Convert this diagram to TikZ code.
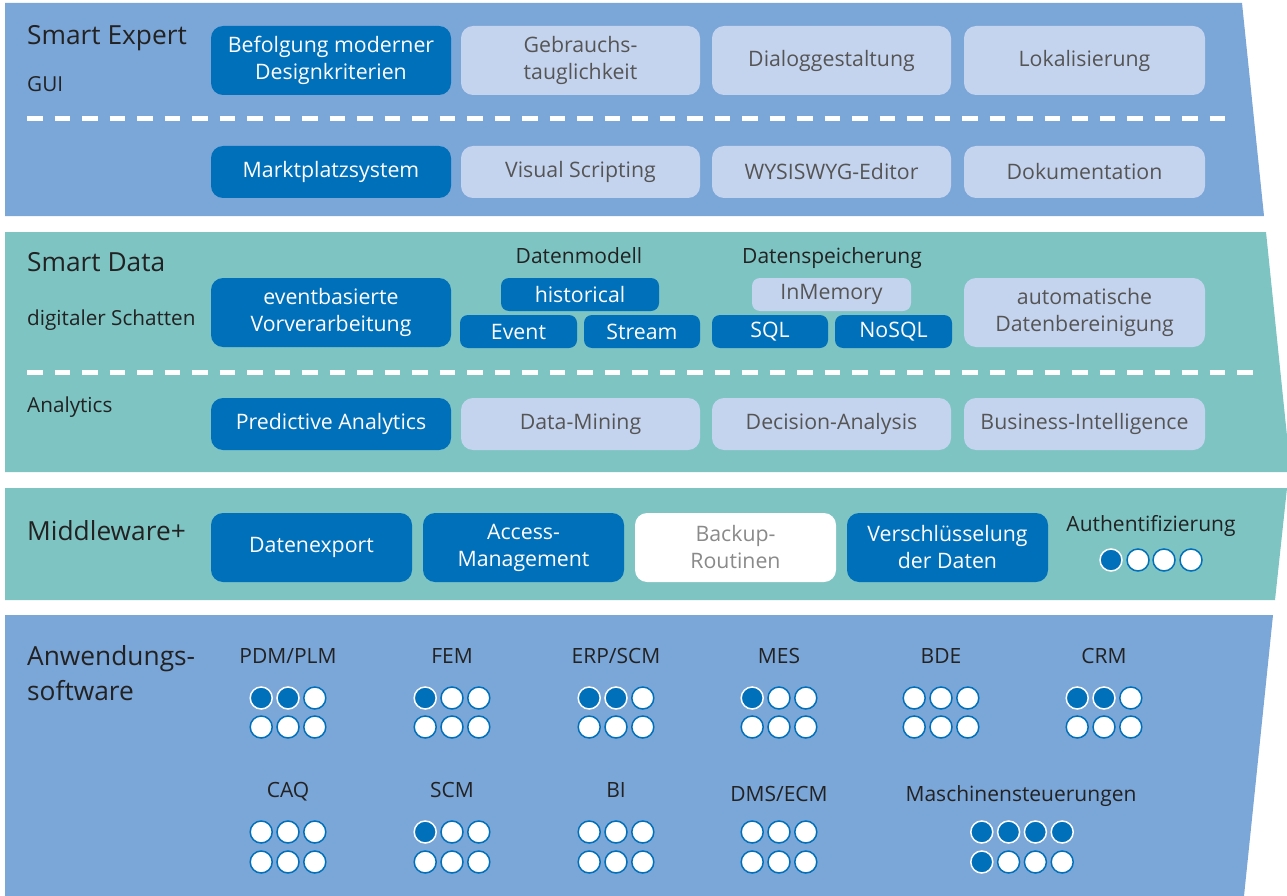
\documentclass[tikz,border=0pt]{standalone}
\usepackage{fontspec}
\setmainfont{Open Sans}

\definecolor{bandblue}{HTML}{7BA6D8}
\definecolor{bandteal}{HTML}{7DC4C3}
\definecolor{boxdark}{HTML}{0070BA}
\definecolor{boxlight}{HTML}{C5D4EE}
\definecolor{txtdark}{HTML}{222222}
\definecolor{txtgray}{HTML}{555555}
\definecolor{txtpale}{HTML}{8A8A8A}

\tikzset{
  box/.style={rounded corners=12pt, inner sep=0pt, align=center,
    font=\fontsize{21.3}{27}\selectfont},
  smallbox/.style={rounded corners=8pt},
  darkbox/.style={box, fill=boxdark, text=white},
  lightbox/.style={box, fill=boxlight, text=txtgray},
  whitebox/.style={box, fill=white, text=txtpale},
  bigtitle/.style={anchor=base west, inner sep=0pt, text=txtdark,
    font=\fontsize{26.3}{35}\selectfont},
  subtitle/.style={anchor=base west, inner sep=0pt, text=txtdark,
    font=\fontsize{20.7}{24}\selectfont},
  grouplabel/.style={anchor=base, inner sep=0pt, text=txtdark,
    font=\fontsize{21}{24}\selectfont},
  doton/.style={circle, inner sep=0pt, minimum size=22pt, fill=boxdark,
    draw=white, line width=1.5pt},
  dotoff/.style={circle, inner sep=0pt, minimum size=22pt, fill=white,
    draw=boxdark, line width=1.5pt},
  divider/.style={white, line width=5pt, dash pattern=on 15.5pt off 12pt},
}

% box by its corners: name, style, x1, y1, x2, y2, text
\newcommand\placebox[7]{%
  \node[#2, minimum width={(#5-#3)*1pt}, minimum height={(#6-#4)*1pt}]
    (#1) at ({(#3+#5)/2},{(#4+#6)/2+1}) {#7};}

% rating dots: name, centre x, columns, y row 1, filled row 1, y row 2, filled row 2
\newcommand\dotgrid[7]{%
  \foreach \i in {1,...,#3} {
    \pgfmathsetmacro\xx{#2+(\i-(#3+1)/2)*26.8}
    \ifnum\i>#5 \node[dotoff] (#1-a\i) at (\xx,#4) {};
    \else \node[doton] (#1-a\i) at (\xx,#4) {}; \fi
    \ifnum\i>#7 \node[dotoff] (#1-b\i) at (\xx,#6) {};
    \else \node[doton] (#1-b\i) at (\xx,#6) {}; \fi
  }}

\begin{document}
\begin{tikzpicture}[x=1pt, y=-1pt]
\useasboundingbox (0,0) rectangle (1287,896);

% layer bands
\fill[bandblue] (5,3) -- (1242,3) -- (1264,216) -- (5,216) -- cycle;
\fill[bandteal] (5,232) -- (1266,232) -- (1287,436) -- (1287,472) -- (5,472) -- cycle;
\fill[bandteal] (5,488) -- (1287,488) -- (1275,600) -- (5,600) -- cycle;
\fill[bandblue] (5,615) -- (1273,615) -- (1244,896) -- (5,896) -- cycle;

% dividers inside the bands
\coordinate (div1a) at (27,119);
\coordinate (div1b) at (1236,119);
\coordinate (div2a) at (27,372);
\coordinate (div2b) at (1262,372);
\draw[divider] (div1a) -- (div1b);
\draw[divider] (div2a) -- (div2b);

% ---- Smart Expert ----
\node[bigtitle] (tExpert) at (27,45) {Smart Expert};
\node[subtitle] (tGUI) at (27,92) {GUI};
\placebox{e1}{darkbox}{211}{25}{451}{94}{Befolgung moderner\\Designkriterien}
\placebox{e2}{lightbox}{461}{25}{700}{94}{Gebrauchs-\\tauglichkeit}
\placebox{e3}{lightbox}{712}{25}{951}{94}{Dialoggestaltung}
\placebox{e4}{lightbox}{964}{25}{1205}{94}{Lokalisierung}
\placebox{e5}{darkbox}{211}{145}{451}{197}{Marktplatzsystem}
\placebox{e6}{lightbox}{461}{145}{700}{197}{Visual Scripting}
\placebox{e7}{lightbox}{712}{145}{951}{197}{WYSISWYG-Editor}
\placebox{e8}{lightbox}{964}{145}{1205}{197}{Dokumentation}

% ---- Smart Data ----
\node[bigtitle] (tData) at (27,271) {Smart Data};
\node[subtitle] (tShadow) at (27,325) {digitaler Schatten};
\node[subtitle] (tAnalytics) at (27,412) {Analytics};
\placebox{d1}{darkbox}{211}{277}{451}{346}{eventbasierte\\Vorverarbeitung}
\node[grouplabel] (tModel) at (579,263) {Datenmodell};
\node[grouplabel] (tStore) at (832,263) {Datenspeicherung};
\placebox{dHist}{darkbox,smallbox}{501}{277}{659}{310}{historical}
\placebox{dEvent}{darkbox,smallbox}{460}{314}{577}{347}{Event}
\placebox{dStream}{darkbox,smallbox}{584}{314}{700}{347}{Stream}
\placebox{dMem}{lightbox,smallbox}{752}{277}{911}{310}{InMemory}
\placebox{dSQL}{darkbox,smallbox}{712}{314}{828}{347}{SQL}
\placebox{dNoSQL}{darkbox,smallbox}{835}{314}{952}{347}{NoSQL}
\placebox{d2}{lightbox}{964}{277}{1205}{346}{automatische\\Datenbereinigung}
\placebox{a1}{darkbox}{211}{397}{451}{449}{Predictive Analytics}
\placebox{a2}{lightbox}{461}{397}{700}{449}{Data-Mining}
\placebox{a3}{lightbox}{712}{397}{951}{449}{Decision-Analysis}
\placebox{a4}{lightbox}{964}{397}{1205}{449}{Business-Intelligence}

% ---- Middleware+ ----
\node[bigtitle] (tMiddle) at (27,540) {Middleware+};
\placebox{m1}{darkbox}{211}{512}{412}{581}{Datenexport}
\placebox{m2}{darkbox}{423}{512}{624}{581}{Access-\\Management}
\placebox{m3}{whitebox}{635}{512}{836}{581}{Backup-\\Routinen}
\placebox{m4}{darkbox}{847}{512}{1048}{581}{Verschlüsselung\\der Daten}
\node[grouplabel] (tAuth) at (1151,531) {Authentifizierung};
\foreach \i/\x in {1/1111,2/1138,3/1164,4/1191} {
  \ifnum\i=1 \node[doton] (auth-\i) at (\x,560) {};
  \else \node[dotoff] (auth-\i) at (\x,560) {}; \fi
}

% ---- Anwendungssoftware ----
\node[bigtitle] (tApp1) at (27,665) {Anwendungs-};
\node[bigtitle] (tApp2) at (27,700) {software};
\node[grouplabel] (lPDM) at (288,663) {PDM/PLM};
\node[grouplabel] (lFEM) at (452,663) {FEM};
\node[grouplabel] (lERP) at (616,663) {ERP/SCM};
\node[grouplabel] (lMES) at (779,663) {MES};
\node[grouplabel] (lBDE) at (941,663) {BDE};
\node[grouplabel] (lCRM) at (1104,663) {CRM};
\dotgrid{pdm}{288}{3}{698}{2}{727}{0}
\dotgrid{fem}{452}{3}{698}{1}{727}{0}
\dotgrid{erp}{616}{3}{698}{2}{727}{0}
\dotgrid{mes}{779}{3}{698}{1}{727}{0}
\dotgrid{bde}{941}{3}{698}{0}{727}{0}
\dotgrid{crm}{1104}{3}{698}{2}{727}{0}

\node[grouplabel] (lCAQ) at (288,797) {CAQ};
\node[grouplabel] (lSCM) at (452,797) {SCM};
\node[grouplabel] (lBI) at (616,797) {BI};
\node[grouplabel] (lDMS) at (779,801) {DMS/ECM};
\node[grouplabel] (lMasch) at (1021,801) {Maschinensteuerungen};
\dotgrid{caq}{288}{3}{832}{0}{862}{0}
\dotgrid{scm}{452}{3}{832}{1}{862}{0}
\dotgrid{bi}{616}{3}{832}{0}{862}{0}
\dotgrid{dms}{779}{3}{832}{0}{862}{0}
\dotgrid{masch}{1022}{4}{832}{4}{862}{1}
\end{tikzpicture}
\end{document}
